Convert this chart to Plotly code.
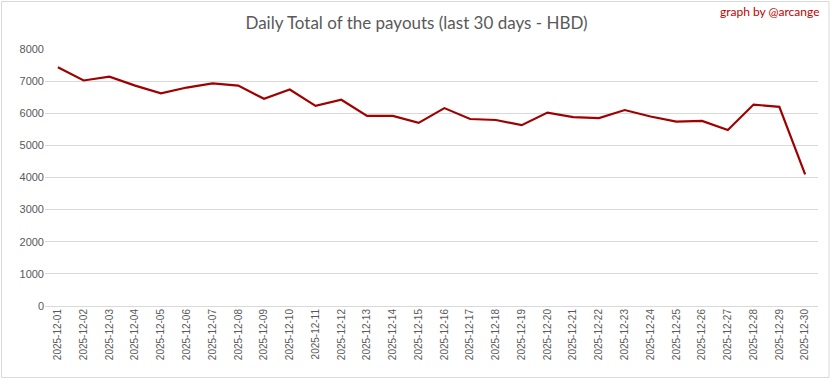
import plotly.graph_objects as go

dates = [f"2025-12-{d:02d}" for d in range(1, 31)]
payouts = [7430, 7020, 7140, 6860, 6620, 6800, 6930, 6860, 6450, 6740,
           6230, 6420, 5920, 5920, 5700, 6160, 5820, 5790, 5630, 6020,
           5880, 5850, 6100, 5900, 5740, 5760, 5480, 6270, 6200, 4100]
y_ticks = [0, 1000, 2000, 3000, 4000, 5000, 6000, 7000, 8000]

fig = go.Figure()
fig.add_trace(go.Scatter(
    x=dates, y=payouts, mode="lines",
    line=dict(color="#A00000", width=2.2),
    hoverinfo="x+y",
))

fig.update_layout(
    width=833, height=379,
    margin=dict(l=45, r=15, t=49, b=73, autoexpand=False),
    paper_bgcolor="white", plot_bgcolor="white",
    showlegend=False,
    font=dict(family="Open Sans, Arial", color="#595959", size=11),
    title=dict(
        text="Daily Total of the payouts (last 30 days - HBD)",
        x=0.5, xanchor="center", y=0.94, yanchor="middle",
        font=dict(family="Lato, Open Sans", size=17, color="#595959"),
    ),
    xaxis=dict(
        type="category", tickangle=-90, showgrid=False, showline=False,
        zeroline=False, ticks="", automargin=False,
        range=[-0.5, len(dates) - 0.5],
        tickfont=dict(family="Liberation Sans, Arial", size=10, color="#595959"),
    ),
    yaxis=dict(
        range=[0, 8000], tickvals=y_ticks, showgrid=True,
        gridcolor="#D9D9D9", gridwidth=1, zeroline=True,
        zerolinecolor="#D9D9D9", zerolinewidth=1, showline=False,
        ticks="", automargin=False,
        tickfont=dict(family="Liberation Sans, Arial", size=11, color="#595959"),
    ),
    annotations=[dict(
        text="graph by @arcange", xref="paper", yref="paper",
        x=1.005, y=1.145, xanchor="right", yanchor="middle",
        showarrow=False, font=dict(family="Lato, Open Sans", size=12, color="#C00000"),
    )],
    shapes=[dict(
        type="rect", xref="paper", yref="paper",
        x0=-0.0563, x1=1.0142, y0=-0.278, y1=1.1848,
        line=dict(color="#D9D9D9", width=1), fillcolor="rgba(0,0,0,0)",
        layer="below",
    )],
)

fig.write_html("out.html", config={"displayModeBar": False},
               post_script="document.body.style.margin='0';")
